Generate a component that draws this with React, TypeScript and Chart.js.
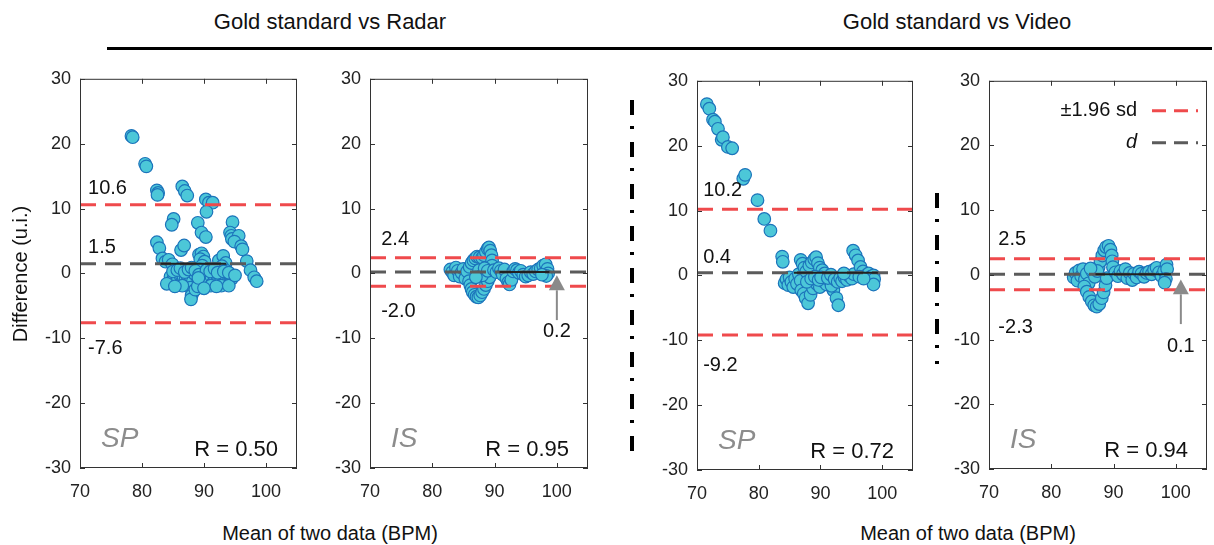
import React, { useEffect, useRef } from 'react';
import { Chart, registerables } from 'chart.js';
Chart.register(...registerables);

const FONT = '"Liberation Sans", Arial, Helvetica, sans-serif';

// ---------- data ----------
const xTicks = [70, 80, 90, 100];
const yTicks = [-30, -20, -10, 0, 10, 20, 30];

const spRadarPoints = [
  [78.3, 21.2], [78.5, 21.0], [80.5, 16.9], [80.7, 16.5],
  [82.4, 12.8], [82.6, 12.4], [82.5, 12.1],
  [86.5, 13.4], [86.9, 12.7], [87.3, 12.0],
  [90.3, 11.4], [90.8, 10.9], [91.4, 10.9], [90.4, 9.5],
  [85.1, 8.4], [84.8, 7.5], [89.0, 7.8], [89.6, 6.3], [90.3, 5.6],
  [94.6, 7.9], [94.2, 6.3], [94.4, 5.8], [94.5, 5.3], [95.6, 5.8], [94.9, 4.9], [96.0, 4.2], [96.2, 3.7],
  [96.9, 1.9], [97.5, 0.5], [98.1, -0.6], [98.5, -1.2],
  [82.4, 4.8], [82.8, 3.9], [86.3, 3.6], [86.8, 4.3],
  [83.3, 2.3], [83.8, 1.8], [84.3, 2.1], [84.9, 1.4],
  [89.2, 2.9], [89.6, 3.1], [89.9, 2.6], [89.4, 2.2], [90.1, 1.8], [89.7, 1.2], [89.3, 0.6],
  [92.4, 2.0], [93.1, 2.7], [93.5, 1.6], [92.9, 1.1], [93.6, 0.4],
  [84.6, -0.5], [84.9, -1.1], [85.2, -0.4], [85.5, -1.3], [85.8, -0.8], [86.1, -0.2], [86.4, -1.4],
  [86.7, -0.6], [87.0, -1.0], [87.3, -0.3], [87.6, -1.6], [87.9, -0.7], [88.2, -1.2], [88.5, -0.1],
  [88.8, -1.8], [89.1, -0.9], [89.4, -0.4], [89.7, -1.3], [90.0, -0.6], [90.3, -1.5], [90.6, -0.2],
  [90.9, -1.0], [91.2, -0.5], [91.5, -1.4], [91.8, -0.7], [92.1, -0.3], [92.4, -1.1], [92.7, -0.6],
  [93.0, -1.6], [93.3, -0.2], [93.6, -0.9], [93.9, -1.3], [94.2, -0.4], [94.5, -0.8],
  [85.0, 0.3], [85.7, 0.5], [86.2, 0.8], [86.9, 0.2], [87.5, 0.6], [88.0, 0.9], [88.6, 0.4],
  [89.2, -0.2], [90.4, 0.5], [91.0, 0.3], [91.7, 0.7], [92.2, 0.1], [93.2, 0.3], [94.0, 0.1],
  [87.8, -2.2], [88.3, -2.8], [88.0, -3.4], [87.9, -4.0], [88.6, -2.5], [89.0, -2.0],
  [86.5, -1.9], [91.1, -1.9], [92.8, -1.9], [89.1, -0.7],
  [84.0, -1.6], [85.3, -2.0], [90.0, -2.3], [92.0, -2.0], [94.0, -1.9], [95.0, -0.3],
];

const isRadarPoints = [
  [82.9, 0.6], [83.2, 0.2], [83.5, -0.3], [83.8, 0.9], [84.1, 0.4], [84.4, -0.5], [84.7, 0.1],
  [85.0, 0.7], [85.3, -0.8], [85.6, 0.3],
  [86.0, 1.0], [86.3, 1.6], [86.6, 2.0], [86.9, 2.3], [87.2, 2.6], [87.6, 2.5], [88.0, 2.4],
  [88.3, 2.8], [88.6, 3.3], [88.9, 3.8], [89.1, 4.0], [89.3, 3.5], [89.5, 2.8], [89.6, 2.0], [89.6, 1.2],
  [85.9, -1.2], [86.1, -1.8], [86.3, -2.4], [86.5, -2.9], [86.8, -3.3], [87.1, -3.6], [87.4, -3.7],
  [87.7, -3.4], [88.0, -2.9], [88.3, -2.4], [88.6, -1.8], [88.9, -1.2], [89.2, -0.6],
  [87.5, 0.5], [88.0, -0.3], [88.4, 0.8], [87.0, -0.6], [88.9, 0.4],
  [89.9, 0.5], [90.3, 0.2], [90.7, 0.8], [91.0, 0.4], [91.3, -0.2], [91.6, 0.6], [91.9, -0.8],
  [92.2, -1.4], [92.4, -1.7], [92.7, -1.0], [93.0, 0.3], [93.3, 0.7], [93.6, 0.5], [93.9, 0.1],
  [94.2, 0.4], [94.6, -0.2], [95.0, -0.5], [95.4, -0.3], [95.8, 0.2], [96.2, -0.1], [96.6, 0.3],
  [97.0, 0.6], [97.4, 0.8], [97.8, 1.2], [98.2, 1.4], [98.5, 0.7], [98.6, 0.0], [98.3, -0.4], [97.6, -0.2],
];

const spVideoPoints = [
  [71.6, 26.4], [72.0, 25.7], [72.6, 24.0], [72.9, 23.7], [73.4, 22.6], [74.0, 20.9], [74.2, 21.3],
  [75.0, 19.8], [75.7, 19.6], [77.5, 14.9], [77.8, 15.5], [79.8, 11.6], [80.9, 8.7], [81.9, 6.9],
  [83.8, 2.9], [83.9, 2.1],
  [84.2, -1.2], [84.5, -0.6], [84.8, -1.5], [85.0, -0.3], [85.3, -1.0], [85.6, -1.8], [85.9, -0.5],
  [86.2, -1.3], [86.5, 0.2], [86.8, -0.8],
  [86.8, 2.4], [87.1, 1.8], [87.4, 1.2], [87.7, 0.6], [88.2, 1.5], [88.6, 2.0], [89.0, 2.5],
  [89.3, 2.8], [89.6, 1.9], [89.9, 1.2], [90.3, 0.8], [90.7, 0.3],
  [86.9, -2.3], [87.3, -2.8], [87.6, -3.5], [88.0, -4.3], [88.4, -3.0], [88.8, -2.0], [89.4, -1.3],
  [89.9, -1.8], [90.4, -0.9], [91.0, -1.4], [91.5, -0.8], [92.1, -2.3], [92.6, -3.5], [92.9, -4.6], [91.8, -1.6],
  [87.8, -1.0], [88.5, -0.5], [89.1, -0.2], [89.7, -0.7], [90.1, -0.3], [91.2, -0.4], [91.7, 0.1],
  [92.3, -0.6], [92.8, -1.0], [93.2, -0.4],
  [93.5, -0.9], [93.9, -0.3], [94.3, -0.7], [94.7, -0.1], [95.1, -0.5], [95.4, 0.2], [95.3, 3.8],
  [95.7, 3.1], [96.1, 2.3], [96.5, 1.3], [96.9, 0.6], [97.4, 0.0], [97.8, 0.3], [98.2, -0.2],
  [98.6, 0.0], [98.7, -0.6], [98.6, -1.4], [96.3, -0.2], [97.0, -0.5], [93.8, 0.3],
];

const isVideoPoints = [
  [83.6, -0.4], [83.9, 0.3], [84.2, -0.9], [84.5, 0.7], [84.8, -0.2], [85.1, 0.9], [85.4, -0.7],
  [85.7, 0.2], [86.0, -1.3],
  [85.3, -1.8], [85.7, -2.6], [86.1, -3.4], [86.5, -4.1], [86.9, -4.7], [87.3, -4.9], [87.7, -4.5],
  [88.1, -3.6], [88.4, -2.7], [88.7, -1.6],
  [87.6, 1.2], [87.9, 2.1], [88.2, 3.0], [88.5, 3.8], [88.8, 4.3], [89.2, 4.5], [89.5, 3.9],
  [89.7, 3.0], [89.8, 2.1], [89.9, 1.2],
  [86.6, 0.5], [87.0, -0.3], [87.4, 0.6], [88.9, -0.5], [86.3, 1.0],
  [90.3, 0.4], [90.7, -0.2], [91.1, 0.6], [91.5, 0.1], [91.9, 0.9], [92.2, -0.5], [92.6, 0.3],
  [93.0, -0.8], [93.3, 0.2], [93.7, -0.4], [94.1, 0.5], [94.5, 0.2], [94.9, -0.3], [95.3, 0.3],
  [95.7, 0.5], [96.1, 0.1], [96.5, 0.8], [96.9, 1.1], [97.3, 0.4], [97.7, -0.2], [98.1, 0.6],
  [98.5, 1.6], [98.6, 0.9], [98.4, -0.6], [98.2, -1.2],
];

const panelNames = ['SP', 'IS', 'SP', 'IS'];
const meanDiff = [1.5, 0.2, 0.4, 0.1];
const upperLoA = [10.6, 2.4, 10.2, 2.5];
const lowerLoA = [-7.6, -2.0, -9.2, -2.3];
const rValues = ['0.50', '0.95', '0.72', '0.94'];
const meanSegStart = [83.0, 90.8, 85.7, 87.1];
const meanSegEnd = [93.6, 98.8, 99.3, 99.2];

// ---------- layout / style ----------
const FILL = '#4cc7d8';
const EDGE = '#1c74bb';
const RED = '#ef4a4c';
const GRAY = '#5b5b5b';

const panels = [
  { L: 80, T: 71, R: 297, B: 468, pts: spRadarPoints, labX: 71.3, upLabY: 13.1, meanLabY: 4.0, lowLabY: -11.6, arrow: null, legend: false },
  { L: 370, T: 71, R: 588, B: 468, pts: isRadarPoints, labX: 71.8, upLabY: 5.3, meanLabY: null, lowLabY: -5.9, arrow: { x: 100, tip: -0.3, base: -2.6, tail: -7.2, lab: -9.0 }, legend: false },
  { L: 697, T: 73, R: 913, B: 470, pts: spVideoPoints, labX: 71.0, upLabY: 13.1, meanLabY: 2.8, lowLabY: -13.9, arrow: null, legend: false },
  { L: 989, T: 73, R: 1207, B: 469, pts: isVideoPoints, labX: 71.5, upLabY: 5.4, meanLabY: null, lowLabY: -8.1, arrow: { x: 100.8, tip: -0.7, base: -3.0, tail: -7.6, lab: -11.1 }, legend: true },
];

const PAD_L = 60, PAD_T = 12, PAD_R = 12, PAD_B = 45;

function Panel({ idx }: { idx: number }) {
  const ref = useRef<HTMLCanvasElement | null>(null);
  const p = panels[idx];
  const w = p.R - p.L + PAD_L + PAD_R;
  const h = p.B - p.T + PAD_T + PAD_B;

  useEffect(() => {
    if (!ref.current) return;
    const overlay = {
      id: 'overlay' + idx,
      afterDatasetsDraw(chart: any) {
        const { ctx, chartArea: a } = chart;
        const x = chart.scales.x, y = chart.scales.y;
        ctx.save();
        // box
        ctx.strokeStyle = '#333';
        ctx.lineWidth = 1;
        ctx.strokeRect(a.left + 0.5, a.top + 0.5, a.width - 1, a.height - 1);
        ctx.beginPath();
        for (const v of xTicks) {
          const px = Math.round(x.getPixelForValue(v)) + 0.5;
          ctx.moveTo(px, a.bottom); ctx.lineTo(px, a.bottom - 5);
          ctx.moveTo(px, a.top); ctx.lineTo(px, a.top + 5);
        }
        for (const v of yTicks) {
          const py = Math.round(y.getPixelForValue(v)) + 0.5;
          ctx.moveTo(a.left, py); ctx.lineTo(a.left + 5, py);
          ctx.moveTo(a.right, py); ctx.lineTo(a.right - 5, py);
        }
        ctx.stroke();

        // value labels
        ctx.fillStyle = '#111';
        ctx.font = `20px ${FONT}`;
        ctx.textBaseline = 'middle';
        ctx.textAlign = 'left';
        const lx = x.getPixelForValue(p.labX);
        ctx.fillText(upperLoA[idx].toFixed(1), lx, y.getPixelForValue(p.upLabY));
        ctx.fillText(lowerLoA[idx].toFixed(1), lx, y.getPixelForValue(p.lowLabY));
        if (p.meanLabY !== null) ctx.fillText(meanDiff[idx].toFixed(1), lx, y.getPixelForValue(p.meanLabY));

        // arrow
        if (p.arrow) {
          const ar = p.arrow;
          const ax = x.getPixelForValue(ar.x);
          const tip = y.getPixelForValue(ar.tip), base = y.getPixelForValue(ar.base), tail = y.getPixelForValue(ar.tail);
          ctx.strokeStyle = '#8a8a8a';
          ctx.fillStyle = '#8a8a8a';
          ctx.lineWidth = 2;
          ctx.beginPath(); ctx.moveTo(ax, base); ctx.lineTo(ax, tail); ctx.stroke();
          ctx.beginPath(); ctx.moveTo(ax, tip); ctx.lineTo(ax - 8, base); ctx.lineTo(ax + 8, base); ctx.closePath(); ctx.fill();
          ctx.fillStyle = '#111';
          ctx.textAlign = 'center';
          ctx.fillText(meanDiff[idx].toFixed(1), ax, y.getPixelForValue(ar.lab));
        }

        // R value
        ctx.fillStyle = '#111';
        ctx.font = `22px ${FONT}`;
        ctx.textAlign = 'right';
        ctx.fillText('R = ' + rValues[idx], a.right - 19, y.getPixelForValue(-27.2));

        // panel name
        ctx.fillStyle = '#8c8c8c';
        ctx.font = `italic 28px ${FONT}`;
        ctx.textAlign = 'left';
        ctx.fillText(panelNames[idx], a.left + 21, y.getPixelForValue(-25.5));

        // legend
        if (p.legend) {
          ctx.font = `20px ${FONT}`;
          ctx.fillStyle = '#111';
          ctx.textAlign = 'right';
          const ty1 = a.top + 30, ty2 = a.top + 62;
          ctx.fillText('\u00b11.96 sd', a.right - 70, ty1);
          ctx.font = `italic 20px ${FONT}`;
          ctx.fillText('d', a.right - 70, ty2);
          ctx.lineWidth = 3;
          ctx.setLineDash([14, 8]);
          ctx.strokeStyle = RED;
          ctx.beginPath(); ctx.moveTo(a.right - 55, ty1); ctx.lineTo(a.right - 9, ty1); ctx.stroke();
          ctx.strokeStyle = GRAY;
          ctx.beginPath(); ctx.moveTo(a.right - 55, ty2); ctx.lineTo(a.right - 9, ty2); ctx.stroke();
          ctx.setLineDash([]);
        }
        ctx.restore();
      },
    };

    const hline = (v: number, color: string, order: number) => ({
      type: 'line',
      data: [{ x: 70, y: v }, { x: 105, y: v }],
      borderColor: color,
      borderWidth: 3,
      borderDash: [16, 9],
      pointRadius: 0,
      showLine: true,
      fill: false,
      order,
    });

    const chart = new Chart(ref.current, {
      type: 'scatter',
      data: {
        datasets: [
          {
            type: 'scatter',
            data: p.pts.map(([a, b]) => ({ x: a, y: b })),
            backgroundColor: FILL,
            borderColor: EDGE,
            borderWidth: 1.2,
            pointRadius: 6.3,
            order: 10,
          } as any,
          hline(upperLoA[idx], RED, 4),
          hline(lowerLoA[idx], RED, 4),
          hline(meanDiff[idx], GRAY, 3),
          {
            type: 'line',
            data: [{ x: meanSegStart[idx], y: meanDiff[idx] }, { x: meanSegEnd[idx], y: meanDiff[idx] }],
            borderColor: '#222',
            borderWidth: 2,
            pointRadius: 0,
            showLine: true,
            fill: false,
            order: 1,
          } as any,
        ],
      },
      options: {
        responsive: false,
        animation: false,
        events: [],
        devicePixelRatio: 1,
        layout: { padding: { left: 0, top: PAD_T, right: PAD_R, bottom: 0 }, autoPadding: false },
        plugins: { legend: { display: false }, tooltip: { enabled: false }, title: { display: false } },
        scales: {
          x: {
            type: 'linear',
            min: 70,
            max: 105,
            afterBuildTicks: (s: any) => { s.ticks = xTicks.map((v) => ({ value: v })); },
            afterFit: (s: any) => { s.height = PAD_B; },
            grid: { display: false, drawTicks: false },
            border: { display: false },
            ticks: { font: { family: FONT, size: 18 }, color: '#222', padding: 13, maxRotation: 0, autoSkip: false },
          },
          y: {
            type: 'linear',
            min: -30,
            max: 30,
            afterBuildTicks: (s: any) => { s.ticks = yTicks.map((v) => ({ value: v })); },
            afterFit: (s: any) => { s.width = PAD_L; },
            grid: { display: false, drawTicks: false },
            border: { display: false },
            ticks: { font: { family: FONT, size: 18 }, color: '#222', padding: 9, autoSkip: false },
          },
        },
      } as any,
      plugins: [overlay],
    } as any);
    return () => chart.destroy();
  }, [idx]);

  return (
    <canvas
      ref={ref}
      width={w}
      height={h}
      style={{ position: 'absolute', left: p.L - PAD_L, top: p.T - PAD_T, width: w, height: h }}
    />
  );
}

const textStyle: React.CSSProperties = {
  position: 'absolute',
  fontFamily: FONT,
  color: '#111',
  whiteSpace: 'nowrap',
  transform: 'translate(-50%, -50%)',
  lineHeight: 1,
};

export default function App() {
  return (
    <div style={{ position: 'absolute', left: 0, top: 0, width: 1214, height: 545, background: '#fff', overflow: 'hidden' }}>
      <div style={{ ...textStyle, left: 330, top: 22, fontSize: 22 }}>Gold standard vs Radar</div>
      <div style={{ ...textStyle, left: 957, top: 22, fontSize: 22 }}>Gold standard vs Video</div>
      <div style={{ position: 'absolute', left: 107, top: 47, width: 1105, height: 3, background: '#000' }} />
      {panels.map((_, i) => <Panel key={i} idx={i} />)}
      <div style={{ ...textStyle, left: 330, top: 533, fontSize: 20 }}>Mean of two data (BPM)</div>
      <div style={{ ...textStyle, left: 968, top: 533, fontSize: 20 }}>Mean of two data (BPM)</div>
      <div style={{ ...textStyle, left: 20, top: 274, fontSize: 20, transform: 'translate(-50%, -50%) rotate(-90deg)' }}>Difference (u.i.)</div>
      <svg width={1214} height={545} style={{ position: 'absolute', left: 0, top: 0, pointerEvents: 'none' }}>
        <line x1={632} y1={100} x2={632} y2={454} stroke="#000" strokeWidth={4} strokeDasharray="15 11 3 13" />
        <line x1={937} y1={193} x2={937} y2={364} stroke="#000" strokeWidth={4} strokeDasharray="15 11 3 13" />
      </svg>
    </div>
  );
}
